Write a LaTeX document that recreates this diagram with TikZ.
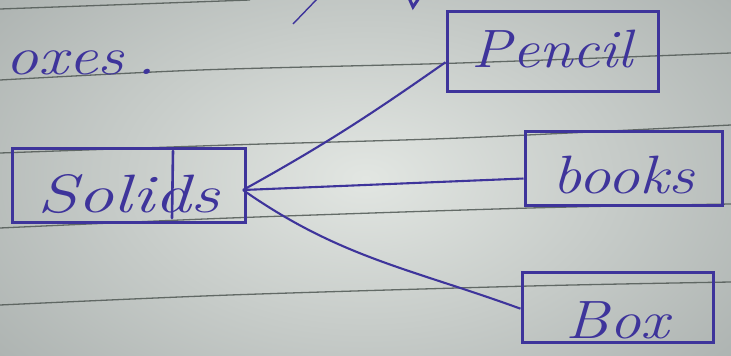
\documentclass[tikz,border=0pt]{standalone}
\usepackage{fontspec}
\definecolor{ink}{RGB}{62,52,155}
\definecolor{rulec}{RGB}{80,88,84}
\definecolor{paperin}{RGB}{226,230,226}
\definecolor{paperout}{RGB}{172,178,176}
\begin{document}
\begin{tikzpicture}[x=1pt,y=-1pt,
  hand/.style={font=\fontsize{54}{60}\selectfont\itshape, text=ink},
  wbox/.style={draw=ink, line width=3pt, inner sep=0pt, hand, text depth=0pt},
  link/.style={draw=ink, line width=2.1pt},
  ruled/.style={draw=rulec, line width=1.3pt, opacity=0.85},
  inkline/.style={draw=ink, line width=2.6pt, line cap=round}]
\useasboundingbox (0,0) rectangle (731,356);
\clip (0,0) rectangle (731,356);
\shade[inner color=paperin, outer color=paperout] (-120,-120) rectangle (851,476);
% ruled lines of the paper
\draw[ruled] plot[smooth] coordinates {(0,9) (250,0)};
\draw[ruled] plot[smooth] coordinates {(0,80) (200,70) (460,63) (731,53)};
\draw[ruled] plot[smooth] coordinates {(0,153) (230,145) (460,138) (731,125)};
\draw[ruled] plot[smooth] coordinates {(0,228) (230,218) (530,208) (731,204)};
\draw[ruled] plot[smooth] coordinates {(0,305) (230,295) (530,286) (731,282)};
% stray marks at the top
\draw[ink, line width=1.4pt] (293,24) -- (318,-2);
\draw[inkline, line width=3pt] (409,-2) -- (413,7) -- (419,-2);
% partial word at top left
\node[hand, anchor=base west] (oxes) at (2,74) {\scalebox{1.22}[1]{oxes\hspace{10pt}.}};
% boxes
\node[wbox, minimum width=233pt, minimum height=74pt, text height=54pt] (solids) at (128.5,185) {\scalebox{1.35}[1]{Solids}};
\draw[inkline] (173,151) -- (172,218);
\node[wbox, minimum width=211pt, minimum height=80pt, text height=32pt] (pencil) at (552.5,51) {\scalebox{1.12}[1]{Pencil}};
\node[wbox, minimum width=197pt, minimum height=74pt, text height=50pt] (books) at (623.5,168) {\scalebox{1.2}[1]{books}};
\node[wbox, minimum width=191pt, minimum height=70pt, text height=62pt] (box) at (617.5,307) {\scalebox{1.17}[1]{Box}};
% connectors
\coordinate (hub) at (243,190);
\draw[link] (hub) to[out=29, in=215] (pencil.186);
\draw[link] (hub) -- (books.186);
\draw[link] (hub) to[out=-35, in=160] (box.181);
\end{tikzpicture}
\end{document}
